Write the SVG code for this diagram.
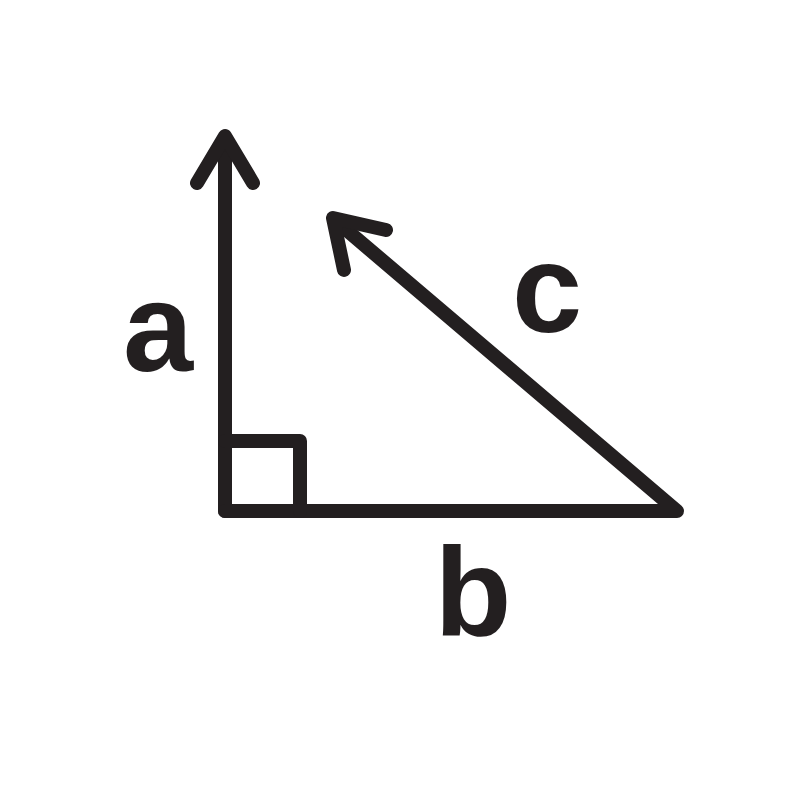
<svg xmlns="http://www.w3.org/2000/svg" width="800" height="800" viewBox="0 0 800 800">
<style>
.ln{fill:none;stroke:#231f20;stroke-width:14;stroke-linecap:round;stroke-linejoin:round}
.lbl{font-family:"Liberation Sans",Arial,sans-serif;font-weight:bold;font-size:126px;fill:#231f20;text-anchor:middle}
</style>
<rect width="800" height="800" fill="#fff"/>
<g id="connectors">
<path class="ln" d="M225,511 V138"/>
<path class="ln" d="M197,183 L225,136 L253,183"/>
<path class="ln" d="M225,511 H677 L336,221"/>
<path class="ln" d="M386,230 L333,218 L344,270"/>
</g>
<g id="right-angle">
<path class="ln" d="M225,441 H300 V511"/>
</g>
<g id="label-a"><text class="lbl" x="158" y="371">a</text></g>
<g id="label-c"><text class="lbl" x="547" y="332">c</text></g>
<g id="label-b"><text class="lbl" x="473" y="636">b</text></g>
</svg>
